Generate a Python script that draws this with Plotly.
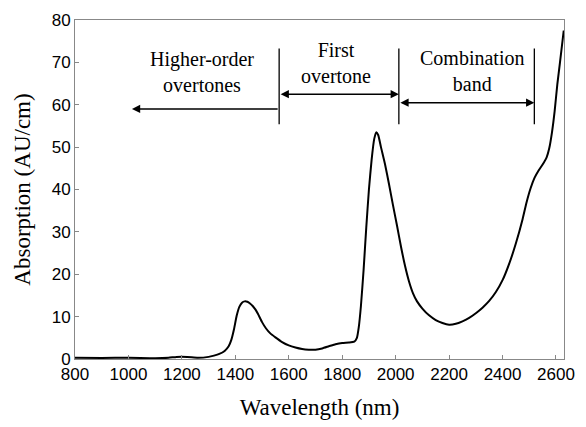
import plotly.graph_objects as go

wavelength = [800, 900, 1000, 1100, 1150, 1180, 1220, 1260, 1300, 1320, 1340, 1360, 1375, 1385,
              1395, 1405, 1415, 1425, 1435, 1445, 1455, 1465, 1475, 1485, 1500, 1515, 1530, 1550,
              1575, 1600, 1625, 1650, 1675, 1700, 1725, 1750, 1775, 1800, 1825, 1845, 1855, 1862,
              1870, 1880, 1890, 1900, 1910, 1920, 1928, 1935, 1945, 1960, 1975, 1990, 2005, 2020,
              2035, 2050, 2065, 2080, 2100, 2125, 2150, 2175, 2200, 2225, 2250, 2275, 2300, 2325,
              2350, 2375, 2400, 2425, 2450, 2475, 2490, 2505, 2520, 2535, 2550, 2565, 2575, 2585,
              2595, 2605, 2615, 2629]
absorption = [0.3, 0.25, 0.3, 0.2, 0.3, 0.5, 0.5, 0.3, 0.5, 0.8, 1.2, 1.9, 3.0, 4.5,
              7.0, 10.2, 12.3, 13.3, 13.6, 13.5, 13.1, 12.5, 11.7, 10.6, 8.7, 7.2, 6.1, 5.1,
              4.0, 3.2, 2.7, 2.35, 2.2, 2.2, 2.5, 3.0, 3.5, 3.8, 3.9, 4.1, 5.0, 7.5,
              12.5, 21.0, 31.0, 40.0, 47.0, 52.0, 53.5, 52.8, 50.0, 46.0, 41.3, 36.3, 31.5, 26.5,
              22.0, 18.3, 15.5, 13.6, 11.9, 10.3, 9.2, 8.5, 8.1, 8.3, 8.9, 9.7, 10.8, 12.1,
              13.7, 15.8, 18.6, 22.5, 27.3, 33.0, 37.0, 40.3, 42.8, 44.5, 45.9, 47.6, 49.8, 53.5,
              58.5, 64.8, 70.0, 77.5]

x_ticks = [800, 1000, 1200, 1400, 1600, 1800, 2000, 2200, 2400, 2600]
y_ticks = [0, 10, 20, 30, 40, 50, 60, 70, 80]

region_bounds = [1564, 2012, 2519]
region_labels = ["Higher-order<br>overtones", "First<br>overtone", "Combination<br>band"]
label_x = [1277, 1778, 2285]
label_y = [67.7, 69.8, 67.9]
arrow_from = [1564, 1564, 2012]
arrow_to = [1013, 2012, 2519]
arrow_y = [59.0, 62.5, 60.5]
bound_y = (55.4, 73.3)

serif = "Liberation Serif"
sans = "Liberation Sans"

fig = go.Figure()
fig.add_trace(go.Scatter(x=wavelength, y=absorption, mode="lines",
                         line=dict(color="black", width=2, shape="spline", smoothing=0.5),
                         showlegend=False))

for b in region_bounds:
    fig.add_shape(type="line", x0=b, x1=b, y0=bound_y[0], y1=bound_y[1],
                  xref="x", yref="y", line=dict(color="black", width=1.3))

for i in range(3):
    double = i > 0
    fig.add_annotation(x=arrow_to[i], y=arrow_y[i], ax=arrow_from[i], ay=arrow_y[i],
                       xref="x", yref="y", axref="x", ayref="y", text="",
                       showarrow=True, arrowhead=2, arrowsize=1.1, arrowwidth=1.5,
                       arrowcolor="black", startarrowhead=2, startarrowsize=1.1,
                       arrowside="end+start" if double else "end")
    fig.add_annotation(x=label_x[i], y=label_y[i], xref="x", yref="y", text=region_labels[i],
                       showarrow=False, font=dict(family=serif, size=20, color="black"))

axis_common = dict(showgrid=False, zeroline=False, showline=True, linecolor="#888888",
                   linewidth=1, mirror=True, ticks="inside", ticklen=4, tickcolor="#888888",
                   tickfont=dict(family=sans, size=17, color="black"))

fig.update_xaxes(range=[800, 2630], tickvals=x_ticks, **axis_common,
                 title=dict(text="Wavelength (nm)", font=dict(family=serif, size=23, color="black"),
                            standoff=15))
fig.update_yaxes(range=[0, 80], tickvals=y_ticks, **axis_common,
                 title=dict(text="Absorption (AU/cm)", font=dict(family=serif, size=23, color="black"),
                            standoff=14))

fig.update_layout(width=586, height=427, margin=dict(l=75, r=11, t=14, b=61),
                  plot_bgcolor="white", paper_bgcolor="white")

fig.write_html("out.html")
